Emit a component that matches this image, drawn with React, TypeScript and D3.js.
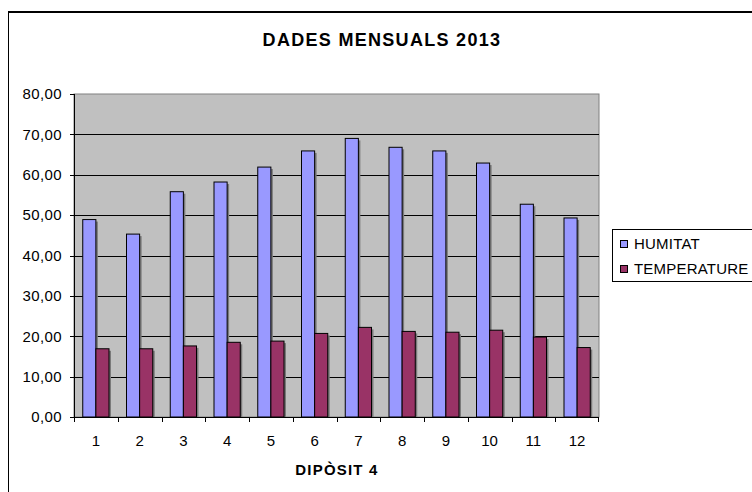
import React from "react";
import * as d3 from "d3";

const categories = ["1", "2", "3", "4", "5", "6", "7", "8", "9", "10", "11", "12"];
const seriesNames = ["HUMITAT", "TEMPERATURE"];
const humitat = [48.9, 45.3, 55.8, 58.2, 61.9, 65.9, 69.0, 66.8, 65.9, 62.9, 52.7, 49.3];
const temperature = [16.9, 16.9, 17.6, 18.5, 18.8, 20.7, 22.2, 21.2, 21.0, 21.5, 19.8, 17.2];
const yTicks = [0, 10, 20, 30, 40, 50, 60, 70, 80];
const colors = ["#9999FF", "#993366"];
const title = "DADES MENSUALS 2013";
const xTitle = "DIPÒSIT 4";

const W = 752;
const H = 492;
const plot = { left: 74, right: 599, top: 94, bottom: 417 };
const font = "'Liberation Sans', Arial, sans-serif";

export default function App() {
  const x = d3
    .scaleBand<string>()
    .domain(categories)
    .range([plot.left, plot.right])
    .paddingInner(0.4)
    .paddingOuter(0.2);
  const xs = d3.scaleBand<string>().domain(seriesNames).range([0, x.bandwidth()]);
  const y = d3.scaleLinear().domain([0, 80]).range([plot.bottom, plot.top]);
  const step = x.step();
  const fmt = (v: number) => v.toFixed(2).replace(".", ",");
  const data = [humitat, temperature];

  return (
    <div style={{ position: "absolute", left: 0, top: 0 }}>
      <svg width={W} height={H} style={{ display: "block", fontFamily: font }}>
        <rect x={0} y={0} width={W} height={H} fill="#fff" />
        <rect x={8.5} y={11.5} width={900} height={700} fill="#fff" stroke="#000" strokeWidth={1} />
        <line x1={9} x2={W} y1={12.5} y2={12.5} stroke="#000" strokeWidth={1} />
        <text
          x={382}
          y={40}
          dy="0.35em"
          textAnchor="middle"
          fontSize={18}
          letterSpacing={1.3}
          fontWeight="bold"
          fill="#000"
        >
          {title}
        </text>
        {/* plot area */}
        <rect
          x={plot.left}
          y={plot.top}
          width={plot.right - plot.left}
          height={plot.bottom - plot.top}
          fill="#C0C0C0"
          stroke="#808080"
          strokeWidth={1}
        />
        {yTicks
          .filter((t) => t > 0 && t < 80)
          .map((t) => (
            <line
              key={"g" + t}
              x1={plot.left}
              x2={plot.right}
              y1={Math.round(y(t)) + 0.5}
              y2={Math.round(y(t)) + 0.5}
              stroke="#000"
              strokeWidth={1}
            />
          ))}
        {/* bars shadow */}
        {data.map((vals, si) =>
          vals.map((v, i) => {
            const bx = (x(categories[i]) ?? 0) + (xs(seriesNames[si]) ?? 0);
            return (
              <rect
                key={"s" + si + "-" + i}
                x={bx + 2}
                y={y(v) + 2}
                width={xs.bandwidth()}
                height={plot.bottom - y(v) - 2}
                fill="#7a7a7a"
              />
            );
          })
        )}
        {data.map((vals, si) =>
          vals.map((v, i) => {
            const bx = (x(categories[i]) ?? 0) + (xs(seriesNames[si]) ?? 0);
            return (
              <rect
                key={"b" + si + "-" + i}
                x={bx}
                y={y(v)}
                width={xs.bandwidth()}
                height={plot.bottom - y(v)}
                fill={colors[si]}
                stroke="#000"
                strokeWidth={1}
              />
            );
          })
        )}
        {/* axes */}
        <line x1={plot.left + 0.5} x2={plot.left + 0.5} y1={plot.top} y2={plot.bottom} stroke="#000" />
        <line x1={plot.left} x2={plot.right} y1={plot.bottom + 0.5} y2={plot.bottom + 0.5} stroke="#000" />
        {yTicks.map((t) => (
          <g key={"yt" + t}>
            <line
              x1={plot.left - 4}
              x2={plot.left}
              y1={Math.round(y(t)) + 0.5}
              y2={Math.round(y(t)) + 0.5}
              stroke="#000"
            />
            <text
              x={62}
              y={y(t)}
              dy="0.35em"
              textAnchor="end"
              fontSize={15}
              letterSpacing={0.4}
              fill="#000"
            >
              {fmt(t)}
            </text>
          </g>
        ))}
        {categories.map((c, i) => (
          <g key={"xt" + c}>
            <line
              x1={Math.round(plot.left + i * step) + 0.5}
              x2={Math.round(plot.left + i * step) + 0.5}
              y1={plot.bottom}
              y2={plot.bottom + 5}
              stroke="#000"
            />
            <text
              x={(x(c) ?? 0) + x.bandwidth() / 2}
              y={441}
              dy="0.35em"
              textAnchor="middle"
              fontSize={15}
              fill="#000"
            >
              {c}
            </text>
          </g>
        ))}
        <line
          x1={plot.right - 0.5}
          x2={plot.right - 0.5}
          y1={plot.bottom}
          y2={plot.bottom + 5}
          stroke="#000"
        />
        <text
          x={337}
          y={470}
          dy="0.35em"
          textAnchor="middle"
          fontSize={15}
          letterSpacing={1.2}
          fontWeight="bold"
          fill="#000"
        >
          {xTitle}
        </text>
        {/* legend */}
        <rect x={612.5} y={229.5} width={200} height={52} fill="#fff" stroke="#000" strokeWidth={1} />
        {seriesNames.map((s, i) => (
          <g key={"lg" + s}>
            <rect
              x={620.5}
              y={240.5 + i * 25}
              width={7}
              height={7}
              fill={colors[i]}
              stroke="#000"
              strokeWidth={1}
            />
            <text x={634} y={243.5 + i * 25} dy="0.35em" fontSize={15} letterSpacing={0.2} fill="#000">
              {s}
            </text>
          </g>
        ))}
      </svg>
    </div>
  );
}
